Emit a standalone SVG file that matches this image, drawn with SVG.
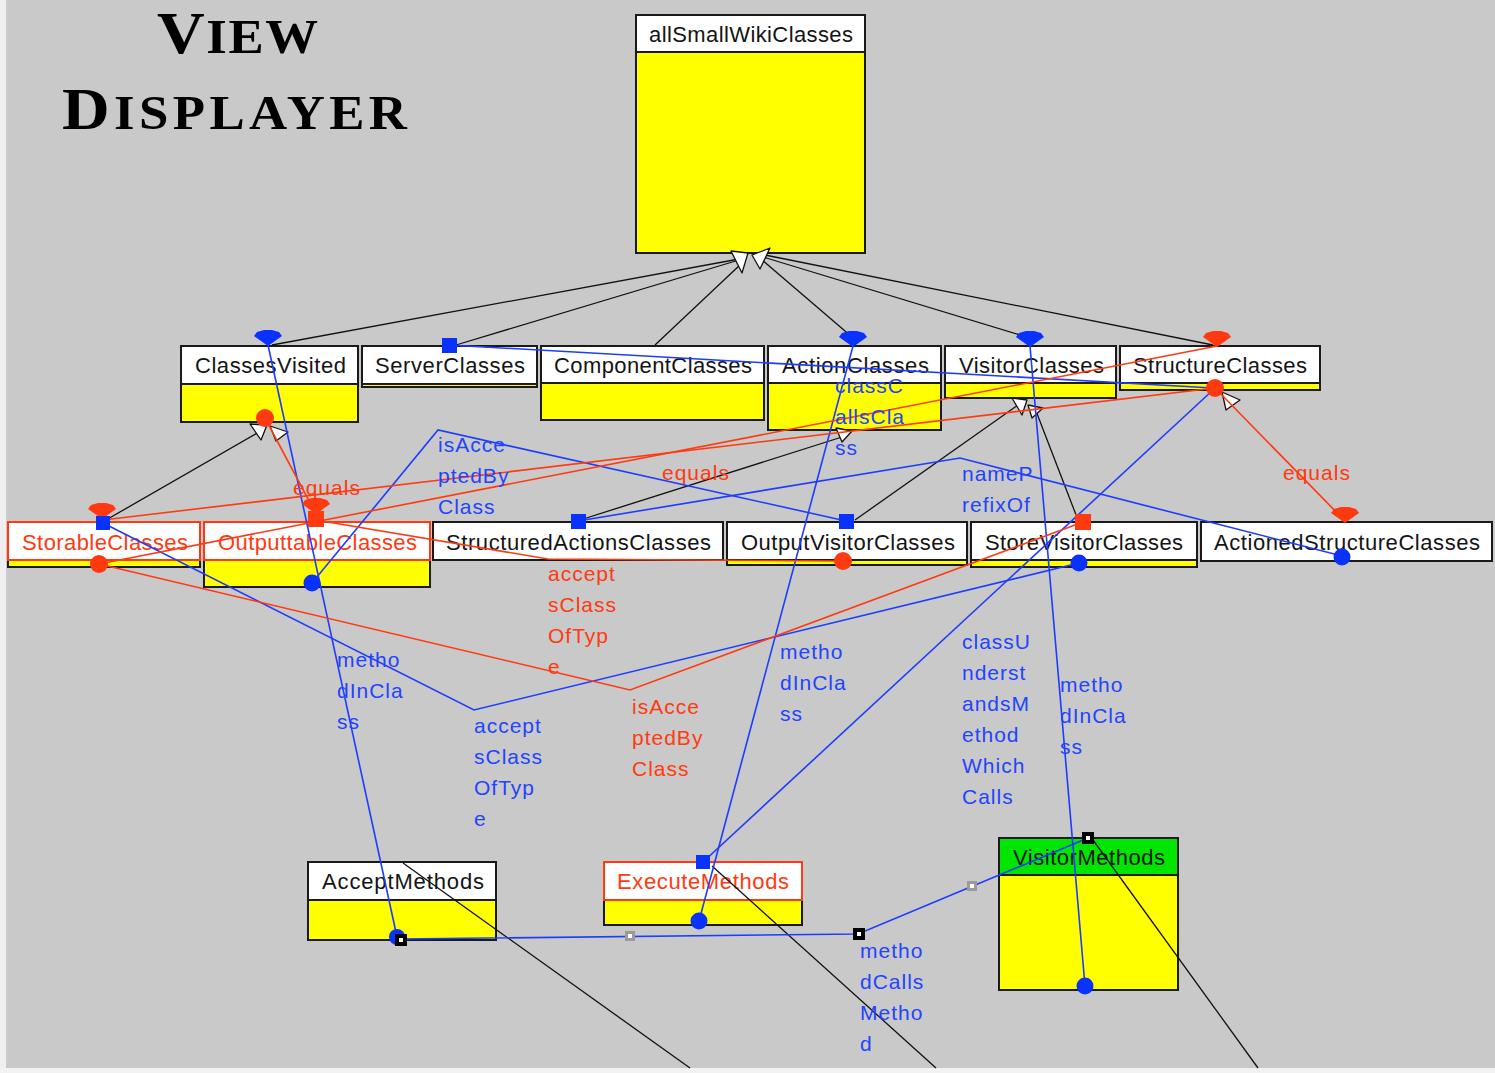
<svg xmlns="http://www.w3.org/2000/svg" width="1495" height="1073" viewBox="0 0 1495 1073">
<defs>
<style>
.hd{fill:#fff;stroke:#1a1a1a;stroke-width:2}
.hr{fill:#fff;stroke:#ff3a10;stroke-width:2}
.hg{fill:#00e600;stroke:#1a1a1a;stroke-width:2}
.bd{fill:#ffff00;stroke:#1a1a1a;stroke-width:2}
.nt{font-family:"Liberation Sans",Arial,sans-serif;font-size:22px;fill:#141414}
.nt.r{fill:#ff3a10}
.lb{font-family:"Liberation Sans",Arial,sans-serif;font-size:21px;letter-spacing:1px}
.lb.b{fill:#2244ff}
.lb.r{fill:#ff3a10}
.kb{fill:none;stroke:#1e3cff;stroke-width:1.6}
.kr{fill:none;stroke:#ff3a10;stroke-width:1.6}
.kk{fill:none;stroke:#111;stroke-width:1.3}
.tri{fill:#fff;stroke:#111;stroke-width:1.3;stroke-linejoin:round}
.fb{fill:#0a32ff}
.fr{fill:#ff3a10}
.hk{fill:#000}
.hw{fill:#fff}
.hgr{fill:#9a9a9a}
.ttl{font-family:"Liberation Serif","Times New Roman",serif;font-weight:bold;fill:#000}
</style>
<!-- multiplicity fan drawn at a line end, tip at the origin -->
<path id="fan" d="M0,1 L-14,-9 L-11,-13 L-4,-15 L4,-15 L11,-13 L14,-9 Z"/>
</defs>

<!-- backdrop -->
<rect x="0" y="0" width="1495" height="1073" fill="#c9c9c9"/>
<rect x="0" y="0" width="6" height="1073" fill="#efefef"/>
<rect x="0" y="1068" width="1495" height="5" fill="#f2f2f2"/>

<!-- title -->
<g id="title">
<text class="ttl" transform="translate(157,53) scale(1.1,1)" font-size="60" letter-spacing="1.5">V<tspan font-size="48">IEW</tspan></text>
<text class="ttl" transform="translate(62,129) scale(1.1,1)" font-size="60" letter-spacing="4">D<tspan font-size="48">ISPLAYER</tspan></text>
</g>

<!-- class nodes -->
<g id="allSmallWikiClasses">
<rect class="bd" x="636" y="52" width="229" height="201"/>
<rect class="hd" x="636" y="15" width="229" height="37"/>
<text class="nt" x="649" y="42" textLength="204">allSmallWikiClasses</text>
</g>
<g id="ClassesVisited">
<rect class="bd" x="181" y="384" width="177" height="38"/>
<rect class="hd" x="181" y="346" width="177" height="38"/>
<text class="nt" x="195" y="373" textLength="151">ClassesVisited</text>
</g>
<g id="ServerClasses">
<rect class="bd" x="362" y="384" width="175" height="3"/>
<rect class="hd" x="362" y="346" width="175" height="38"/>
<text class="nt" x="375" y="373" textLength="150">ServerClasses</text>
</g>
<g id="ComponentClasses">
<rect class="bd" x="541" y="383" width="223" height="37"/>
<rect class="hd" x="541" y="346" width="223" height="37"/>
<text class="nt" x="554" y="373" textLength="198">ComponentClasses</text>
</g>
<g id="ActionClasses">
<rect class="bd" x="768" y="383" width="173" height="47"/>
<rect class="hd" x="768" y="346" width="173" height="37"/>
<text class="nt" x="782" y="373" textLength="147">ActionClasses</text>
</g>
<g id="VisitorClasses">
<rect class="bd" x="945" y="383" width="171" height="15"/>
<rect class="hd" x="945" y="346" width="171" height="37"/>
<text class="nt" x="959" y="373" textLength="145">VisitorClasses</text>
</g>
<g id="StructureClasses">
<rect class="bd" x="1120" y="383" width="200" height="7"/>
<rect class="hd" x="1120" y="346" width="200" height="37"/>
<text class="nt" x="1133" y="373" textLength="174">StructureClasses</text>
</g>
<g id="StorableClasses">
<rect class="bd" x="8" y="560" width="192" height="7"/>
<rect class="hr" x="8" y="522" width="192" height="38"/>
<text class="nt r" x="22" y="550" textLength="166">StorableClasses</text>
</g>
<g id="OutputtableClasses">
<rect class="bd" x="204" y="560" width="226" height="27"/>
<rect class="hr" x="204" y="522" width="226" height="38"/>
<text class="nt r" x="218" y="550" textLength="199">OutputtableClasses</text>
</g>
<g id="StructuredActionsClasses">
<rect class="hd" x="433" y="522" width="290" height="38"/>
<text class="nt" x="446" y="550" textLength="265">StructuredActionsClasses</text>
</g>
<g id="OutputVisitorClasses">
<rect class="bd" x="727" y="560" width="240" height="5"/>
<rect class="hd" x="727" y="522" width="240" height="38"/>
<text class="nt" x="741" y="550" textLength="214">OutputVisitorClasses</text>
</g>
<g id="StoreVisitorClasses">
<rect class="bd" x="971" y="560" width="226" height="7"/>
<rect class="hd" x="971" y="522" width="226" height="38"/>
<text class="nt" x="985" y="550" textLength="198">StoreVisitorClasses</text>
</g>
<g id="ActionedStructureClasses">
<rect class="hd" x="1201" y="522" width="291" height="39"/>
<text class="nt" x="1214" y="550" textLength="266">ActionedStructureClasses</text>
</g>
<g id="AcceptMethods">
<rect class="bd" x="308" y="900" width="188" height="40"/>
<rect class="hd" x="308" y="862" width="188" height="38"/>
<text class="nt" x="322" y="889" textLength="162">AcceptMethods</text>
</g>
<g id="ExecuteMethods">
<rect class="bd" x="604" y="900" width="198" height="25"/>
<rect class="hr" x="604" y="862" width="198" height="38"/>
<text class="nt r" x="617" y="889" textLength="172">ExecuteMethods</text>
</g>
<g id="VisitorMethods">
<rect class="bd" x="999" y="875" width="179" height="115"/>
<rect class="hg" x="999" y="838" width="179" height="37"/>
<text class="nt" x="1013" y="865" textLength="152">VisitorMethods</text>
</g>

<!-- connectors -->
<g id="connectors">
<!-- generalisations (black) -->
<g class="kk">
<path d="M272,345 L739,259"/>
<path d="M456,345 L739,260"/>
<path d="M655,345 L741,264"/>
<path d="M852,337 L761,259"/>
<path d="M1030,338 L763,257"/>
<path d="M1213,345 L765,255"/>
<path d="M106,520 L259,432"/>
<path d="M580,520 L842,437"/>
<path d="M855,520 L1018,405"/>
<path d="M1078,520 L1036,411"/>
<path d="M403,863 L690,1068"/>
<path d="M712,866 L936,1068"/>
<path d="M1093,840 L1258,1068"/>
</g>
<g class="tri">
<polygon points="731,251 748,253 742,273"/>
<polygon points="752,255 770,248 760,269"/>
<polygon points="250,424 267,425 261,440"/>
<polygon points="270,426 288,432 276,441"/>
<polygon points="836,428 852,431 842,442"/>
<polygon points="1012,398 1027,400 1022,415"/>
<polygon points="1028,405 1043,408 1032,418"/>
<polygon points="1222,392 1240,400 1226,410"/>
</g>

<!-- associations (blue) -->
<g class="kb">
<path d="M268,345 L397,937"/>
<path d="M312,583 L438,430 L846,521"/>
<path d="M449,345 L1213,388"/>
<path d="M103,523 L474,710 L1079,563"/>
<path d="M853,346 L699,921"/>
<path d="M1213,390 L703,862"/>
<path d="M1030,346 L1085,986"/>
<path d="M401,939 L858,934 L1088,838"/>
<path d="M578,521 L960,458 L1342,556"/>
</g>
<!-- associations (red) -->
<g class="kr">
<path d="M265,418 L316,514"/>
<path d="M1215,388 L1345,521"/>
<path d="M99,564 L1217,346"/>
<path d="M103,520 L1215,388"/>
<path d="M316,520 L548,559 L843,561"/>
<path d="M99,564 L630,690 L1083,522"/>
</g>

<!-- end markers -->
<use href="#fan" class="fb" x="268" y="345"/>
<use href="#fan" class="fb" x="853" y="346"/>
<use href="#fan" class="fb" x="1030" y="346"/>
<use href="#fan" class="fr" x="1217" y="346"/>
<use href="#fan" class="fr" x="102" y="518"/>
<use href="#fan" class="fr" x="316" y="513"/>
<use href="#fan" class="fr" x="1345" y="522"/>

<rect class="fb" x="442" y="338" width="15" height="15"/>
<rect class="fb" x="96" y="516" width="14" height="14"/>
<rect class="fr" x="308" y="511" width="16" height="16"/>
<rect class="fb" x="571" y="514" width="15" height="15"/>
<rect class="fb" x="839" y="514" width="15" height="15"/>
<rect class="fr" x="1075" y="514" width="16" height="16"/>
<rect class="fb" x="696" y="855" width="14" height="14"/>

<circle class="fr" cx="265" cy="418" r="9"/>
<circle class="fr" cx="1215" cy="388" r="9"/>
<circle class="fr" cx="99" cy="564" r="9"/>
<circle class="fr" cx="843" cy="561" r="9"/>
<circle class="fb" cx="312" cy="583" r="8.5"/>
<circle class="fb" cx="1079" cy="563" r="8.5"/>
<circle class="fb" cx="1342" cy="557" r="8.5"/>
<circle class="fb" cx="397" cy="937" r="8"/>
<circle class="fb" cx="699" cy="921" r="8.5"/>
<circle class="fb" cx="1085" cy="986" r="8.5"/>

<!-- bend handles -->
<rect class="hk" x="395" y="934" width="12" height="12"/>
<rect class="hw" x="399" y="938" width="4" height="4"/>
<rect class="hk" x="853" y="928" width="12" height="12"/>
<rect class="hw" x="857" y="932" width="4" height="4"/>
<rect class="hk" x="1082" y="832" width="12" height="12"/>
<rect class="hw" x="1086" y="836" width="4" height="4"/>
<rect class="hgr" x="625" y="931" width="10" height="10"/>
<rect class="hw" x="628" y="934" width="4" height="4"/>
<rect class="hgr" x="967" y="881" width="10" height="10"/>
<rect class="hw" x="970" y="884" width="4" height="4"/>

<!-- association labels -->
<text class="lb r" x="293" y="495">equals</text>
<text class="lb r" x="662" y="480">equals</text>
<text class="lb r" x="1283" y="480">equals</text>
<text class="lb b" x="438" y="452">isAcce<tspan x="438" dy="31">ptedBy</tspan><tspan x="438" dy="31">Class</tspan></text>
<text class="lb b" x="835" y="393">classC<tspan x="835" dy="31">allsCla</tspan><tspan x="835" dy="31">ss</tspan></text>
<text class="lb b" x="962" y="481">nameP<tspan x="962" dy="31">refixOf</tspan></text>
<text class="lb r" x="548" y="581">accept<tspan x="548" dy="31">sClass</tspan><tspan x="548" dy="31">OfTyp</tspan><tspan x="548" dy="31">e</tspan></text>
<text class="lb b" x="337" y="667">metho<tspan x="337" dy="31">dInCla</tspan><tspan x="337" dy="31">ss</tspan></text>
<text class="lb b" x="474" y="733">accept<tspan x="474" dy="31">sClass</tspan><tspan x="474" dy="31">OfTyp</tspan><tspan x="474" dy="31">e</tspan></text>
<text class="lb r" x="632" y="714">isAcce<tspan x="632" dy="31">ptedBy</tspan><tspan x="632" dy="31">Class</tspan></text>
<text class="lb b" x="780" y="659">metho<tspan x="780" dy="31">dInCla</tspan><tspan x="780" dy="31">ss</tspan></text>
<text class="lb b" x="962" y="649">classU<tspan x="962" dy="31">nderst</tspan><tspan x="962" dy="31">andsM</tspan><tspan x="962" dy="31">ethod</tspan><tspan x="962" dy="31">Which</tspan><tspan x="962" dy="31">Calls</tspan></text>
<text class="lb b" x="1060" y="692">metho<tspan x="1060" dy="31">dInCla</tspan><tspan x="1060" dy="31">ss</tspan></text>
<text class="lb b" x="860" y="958">metho<tspan x="860" dy="31">dCalls</tspan><tspan x="860" dy="31">Metho</tspan><tspan x="860" dy="31">d</tspan></text>
</g>
</svg>
